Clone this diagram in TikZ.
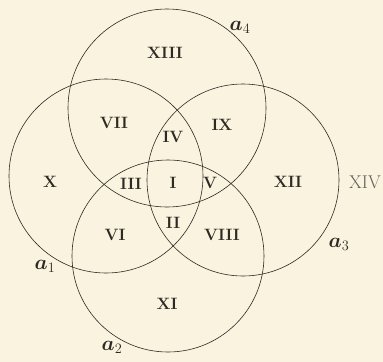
\documentclass[tikz,border=0pt]{standalone}
\usepackage{amsmath,amssymb}
\usepackage{xcolor}
\usepackage{tikz}
\definecolor{paper}{RGB}{249,243,223}
\definecolor{ink}{RGB}{45,42,36}

\begin{document}
\begin{tikzpicture}[x=1bp, y=-1bp, every node/.style={font=\fontsize{16.5}{18}\selectfont\bfseries, text=ink}]
  \useasboundingbox[fill=paper] (0,0) rectangle (383,362);
  % the four circles
  \node[draw=ink, line width=0.6pt, circle, minimum size=198bp, inner sep=0pt] (a4) at (167,108) {};
  \node[draw=ink, line width=0.6pt, circle, minimum size=194bp, inner sep=0pt] (a1) at (106,176) {};
  \node[draw=ink, line width=0.6pt, circle, minimum size=192bp, inner sep=0pt] (a3) at (243,180) {};
  \node[draw=ink, line width=0.6pt, circle, minimum size=192bp, inner sep=0pt] (a2) at (168,256) {};
  % region numbers
  \node (r13) at (165,53) {XIII};
  \node (r7) at (114,123) {VII};
  \node (r9) at (222,125) {IX};
  \node (r4) at (173,137) {IV};
  \node (r10) at (50,182) {X};
  \node (r3) at (131,184) {III};
  \node (r1) at (173,183) {I};
  \node (r5) at (210,183) {V};
  \node (r12) at (288,182) {XII};
  \node[font=\fontsize{18.5}{20}\selectfont, text=ink!75] (r14) at (365,182) {XIV};
  \node (r6) at (115,235) {VI};
  \node (r2) at (173,223) {II};
  \node (r8) at (222,235) {VIII};
  \node (r11) at (167,304) {XI};
  % circle names
  \node[font=\fontsize{21}{23}\selectfont] (n4) at (240,27) {$\boldsymbol{a}_4$};
  \node[font=\fontsize{21}{23}\selectfont] (n3) at (339,244) {$\boldsymbol{a}_3$};
  \node[font=\fontsize{21}{23}\selectfont] (n1) at (45,266) {$\boldsymbol{a}_1$};
  \node[font=\fontsize{21}{23}\selectfont] (n2) at (112,347) {$\boldsymbol{a}_2$};
\end{tikzpicture}
\end{document}
